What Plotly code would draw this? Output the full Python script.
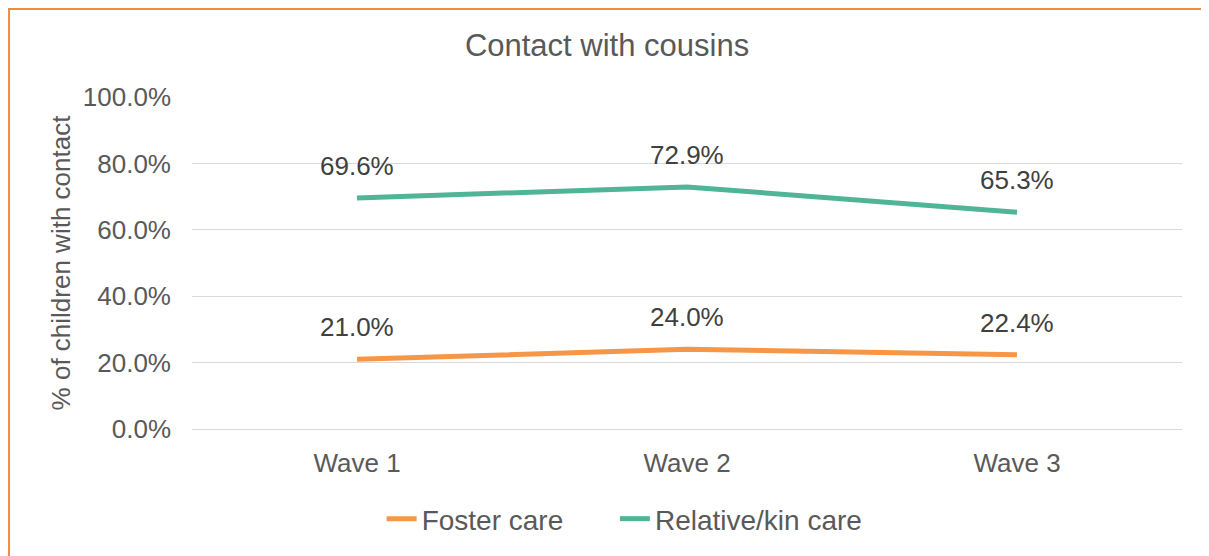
import plotly.graph_objects as go

waves = ["Wave 1", "Wave 2", "Wave 3"]
foster = [21.0, 24.0, 22.4]
kin = [69.6, 72.9, 65.3]
tick_vals = [0, 20, 40, 60, 80, 100]
tick_text = ["0.0%", "20.0%", "40.0%", "60.0%", "80.0%", "100.0%"]

# trailing non-breaking spaces widen the gap between legend entries
series = [
    ("Foster care" + "\u00a0" * 6, foster, "#F79646"),
    ("Relative/kin care", kin, "#4FB596"),
]

fig = go.Figure()
for name, vals, color in series:
    fig.add_trace(go.Scatter(
        x=waves, y=vals, name=name, mode="lines",
        line=dict(color=color, width=5),
    ))
    for w, v in zip(waves, vals):
        fig.add_annotation(
            x=w, y=v, text=f"{v:.1f}%", showarrow=False,
            yshift=32, font=dict(size=26, color="#404040"),
        )

# orange frame around the chart (page body adds an 8px offset)
fig.add_shape(
    type="rect", xref="paper", yref="paper",
    x0=-0.1848, x1=1.2, y0=-0.6, y1=1.265,
    line=dict(color="#F58A3A", width=2), fillcolor="rgba(0,0,0,0)",
)

fig.update_layout(
    width=1201, height=548,
    margin=dict(l=184, r=27, t=89, b=127),
    paper_bgcolor="white", plot_bgcolor="white",
    font=dict(family="Liberation Sans, Arial", size=26, color="#595959"),
    title=dict(text="Contact with cousins", x=0.4988, xanchor="center",
               y=0.9325, yanchor="middle", font=dict(size=31, color="#595959")),
    legend=dict(orientation="h", x=0.437, xanchor="center", y=-0.271,
                yanchor="middle", font=dict(size=28, color="#595959")),
    showlegend=True,
)
fig.update_xaxes(
    range=[-0.5, 2.5], showgrid=False, showline=False, zeroline=False,
    ticks="", ticklabelstandoff=16, tickfont=dict(size=26, color="#595959"),
)
fig.update_yaxes(
    range=[0, 100], tickvals=tick_vals, ticktext=tick_text,
    showgrid=True, gridcolor="#D9D9D9", gridwidth=1,
    zeroline=True, zerolinecolor="#D9D9D9", zerolinewidth=1,
    showline=False, ticks="", ticklabelstandoff=20,
    tickfont=dict(size=26, color="#595959"),
    title=dict(text="% of children with contact", standoff=4,
               font=dict(size=26, color="#595959")),
)

fig.write_html("out.html")
